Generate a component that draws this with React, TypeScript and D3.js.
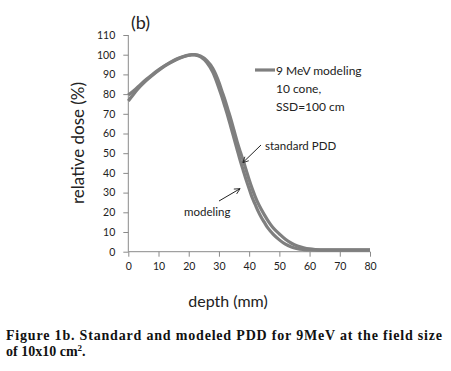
import React, { useEffect, useRef } from 'react';
import * as d3 from 'd3';

// depth (mm) and relative dose (%)
const modelDepth = [0, 2, 4, 6, 8, 10, 12, 14, 16, 18, 20, 21, 22, 24, 26, 28, 30, 31, 32, 33, 34, 35, 36, 37, 38, 39, 40, 41, 42, 43, 44, 45, 46, 47, 48, 50, 52, 54, 56, 58, 60, 65, 70, 75, 80];
const modelDose = [76.5, 80.5, 84, 87, 89.6, 92, 94.2, 96, 97.6, 98.8, 99.7, 100, 99.9, 98.9, 96, 91, 83, 78.5, 73.5, 68.5, 63, 57.5, 52, 46.5, 41.5, 36.5, 32, 27.5, 24, 20.5, 17.5, 15, 12.5, 10.5, 8.8, 6, 3.8, 2.4, 1.5, 1.1, 0.9, 0.8, 0.8, 0.8, 0.8];

const standardDepth = [0, 2, 4, 6, 8, 10, 12, 14, 16, 18, 20, 22, 24, 26, 28, 30, 31, 32, 33, 34, 35, 36, 37, 38, 39, 40, 41, 42, 43, 44, 45, 46, 47, 48, 50, 52, 54, 56, 58, 60, 62, 65, 70, 75, 80];
const standardDose = [79.5, 82, 84.8, 87.5, 90, 92.3, 94.4, 96.2, 97.8, 99, 99.8, 100, 99.2, 97, 93, 86, 81.5, 77, 72, 67, 61.5, 56, 51, 46.5, 41.5, 36.5, 32, 28, 24.5, 21.5, 18.8, 16.3, 14, 12, 9, 6.3, 4.3, 2.9, 2, 1.4, 1.1, 0.9, 0.9, 0.9, 0.9];

const xTicks = [0, 10, 20, 30, 40, 50, 60, 70, 80];
const yTicks = [0, 10, 20, 30, 40, 50, 60, 70, 80, 90, 100, 110];

const legendLines = ['9 MeV modeling', '10 cone,', 'SSD=100 cm'];

const App = () => {
    const chartRef = useRef(null);

    useEffect(() => {
        const width = 451;
        const height = 371;
        const font = 'Lato, "Open Sans", sans-serif';
        const grey = '#7f7f7f';
        const axisGrey = '#8a8a8a';

        const x = d3.scaleLinear().domain([0, 80]).range([128.3, 370]);
        const y = d3.scaleLinear().domain([0, 110]).range([251.7, 35]);

        const svg = d3.select(chartRef.current)
            .append('svg')
            .attr('width', width)
            .attr('height', height)
            .style('position', 'absolute')
            .style('left', '0px')
            .style('top', '0px')
            .style('background', '#fff');

        svg.append('defs')
            .append('marker')
            .attr('id', 'arrow')
            .attr('viewBox', '0 0 10 10')
            .attr('refX', 9)
            .attr('refY', 5)
            .attr('markerWidth', 7)
            .attr('markerHeight', 7)
            .attr('orient', 'auto')
            .append('path')
            .attr('d', 'M1,1 L9,5 L1,9')
            .attr('fill', 'none')
            .attr('stroke', '#222')
            .attr('stroke-width', 1.2);

        // axes
        const xAxis = svg.append('g')
            .attr('transform', `translate(0,${y(0)})`)
            .call(d3.axisBottom(x).tickValues(xTicks).tickSize(5).tickPadding(6));
        const yAxis = svg.append('g')
            .attr('transform', `translate(${x(0)},0)`)
            .call(d3.axisLeft(y).tickValues(yTicks).tickSize(5).tickPadding(8));

        [xAxis, yAxis].forEach((g) => {
            g.select('.domain').attr('stroke', axisGrey);
            g.selectAll('.tick line').attr('stroke', axisGrey);
            g.selectAll('.tick text')
                .attr('fill', '#222')
                .style('font-family', font)
                .style('font-size', '10.5px');
        });
        // plain axis lines, no outer ticks
        yAxis.select('.domain').attr('d', `M0,${y(110)}V${y(0)}`);
        xAxis.select('.domain').attr('d', `M${x(0)},0H${x(80)}`);

        const line = d3.line()
            .x((d) => x(d[0]))
            .y((d) => y(d[1]))
            .curve(d3.curveMonotoneX);

        const series = [
            d3.zip(standardDepth, standardDose),
            d3.zip(modelDepth, modelDose),
        ];

        svg.selectAll('.curve')
            .data(series)
            .enter()
            .append('path')
            .attr('class', 'curve')
            .attr('d', (d) => line(d))
            .attr('fill', 'none')
            .attr('stroke', grey)
            .attr('stroke-width', 3.2);

        // legend
        svg.append('line')
            .attr('x1', 255).attr('x2', 275)
            .attr('y1', 70).attr('y2', 70)
            .attr('stroke', grey)
            .attr('stroke-width', 3.2);
        svg.append('g')
            .selectAll('text')
            .data(legendLines)
            .enter()
            .append('text')
            .attr('x', 276)
            .attr('y', (d, i) => 74.5 + i * 18)
            .style('font-family', font)
            .style('font-size', '12px')
            .attr('fill', '#222')
            .text((d) => d);

        // annotations
        svg.append('text')
            .attr('x', 265).attr('y', 150)
            .style('font-family', font).style('font-size', '11.5px')
            .attr('fill', '#222')
            .text('standard PDD');
        svg.append('line')
            .attr('x1', 261).attr('y1', 145)
            .attr('x2', x(37.9)).attr('y2', y(45.2))
            .attr('stroke', '#222').attr('stroke-width', 1)
            .attr('marker-end', 'url(#arrow)');

        svg.append('text')
            .attr('x', 184).attr('y', 216)
            .style('font-family', font).style('font-size', '11.5px')
            .attr('fill', '#222')
            .text('modeling');
        svg.append('line')
            .attr('x1', 219).attr('y1', 201)
            .attr('x2', x(37)).attr('y2', y(32))
            .attr('stroke', '#222').attr('stroke-width', 1)
            .attr('marker-end', 'url(#arrow)');

        // titles
        svg.append('text')
            .attr('x', 131).attr('y', 28.5)
            .style('font-family', font).style('font-size', '18px')
            .attr('fill', '#222')
            .text('(b)');
        svg.append('text')
            .attr('transform', 'translate(84,143) rotate(-90)')
            .attr('text-anchor', 'middle')
            .style('font-family', font).style('font-size', '17px')
            .attr('fill', '#222')
            .text('relative dose (%)');
        svg.append('text')
            .attr('x', 228).attr('y', 307)
            .attr('text-anchor', 'middle')
            .style('font-family', font).style('font-size', '16px')
            .attr('fill', '#222')
            .text('depth (mm)');

        // caption
        const serif = '"Liberation Serif", "Times New Roman", serif';
        svg.append('text')
            .attr('x', 6).attr('y', 340)
            .attr('textLength', 436)
            .attr('lengthAdjust', 'spacing')
            .style('font-family', serif).style('font-size', '14px').style('font-weight', 'bold')
            .attr('fill', '#111')
            .text('Figure 1b. Standard and modeled PDD for 9MeV at the field size');
        const cap2 = svg.append('text')
            .attr('x', 6).attr('y', 356)
            .style('font-family', serif).style('font-size', '14px').style('font-weight', 'bold')
            .attr('fill', '#111');
        cap2.append('tspan').text('of 10x10 cm');
        cap2.append('tspan').attr('dy', -5).style('font-size', '9px').text('2');
        cap2.append('tspan').attr('dy', 5).text('.');

        return () => {
            svg.remove();
        };
    }, []);

    return <div ref={chartRef}></div>;
};

export default App;
